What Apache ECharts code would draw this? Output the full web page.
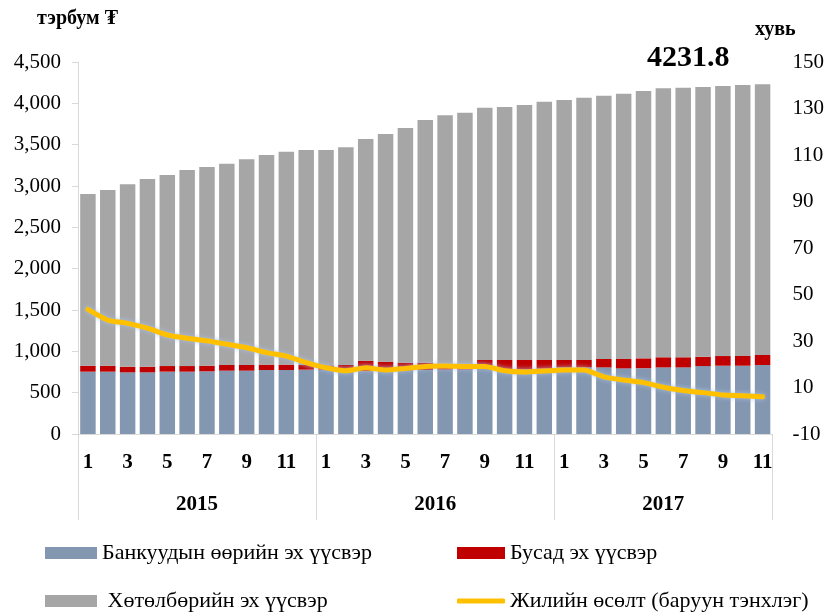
<!DOCTYPE html>
<html>
<head>
<meta charset="utf-8">
<script src="https://cdn.jsdelivr.net/npm/echarts@6/dist/echarts.min.js"></script>
<style>
  html, body { margin: 0; padding: 0; background: #fff; }
  #main { width: 827px; height: 615px; }
</style>
</head>
<body>
<div id="main"></div>
<script>
// сар бүрийн ангилал (2015.1 - 2017.11)
const months = ['1','2','3','4','5','6','7','8','9','10','11','12',
  '1','2','3','4','5','6','7','8','9','10','11','12',
  '1','2','3','4','5','6','7','8','9','10','11'];
const years = ['2015', '2016', '2017'];
const monthsPerYear = [12, 12, 11];

// тэрбум төгрөг
const bankOwn = [754, 754, 746, 746, 754, 754, 758, 766, 766, 774, 774, 778,
  778, 760, 760, 765, 770, 775, 780, 780, 785, 780, 780, 790,
  806, 806, 806, 794, 796, 806, 806, 822, 826, 826, 835];
const otherSrc = [72, 72, 68, 68, 68, 68, 68, 69, 69, 65, 65, 57,
  52, 75, 127, 110, 93, 88, 70, 70, 110, 115, 115, 105,
  89, 89, 101, 113, 119, 122, 122, 113, 117, 119, 121];
const programSrc = [2077, 2126, 2206, 2271, 2311, 2372, 2404, 2435, 2488, 2536, 2576, 2600,
  2605, 2633, 2682, 2754, 2839, 2935, 3005, 3037, 3053, 3061, 3085, 3125,
  3145, 3174, 3186, 3210, 3234, 3253, 3262, 3263, 3267, 3277, 3275.8];
// хувь (баруун тэнхлэг)
const growth = [43.6, 39.0, 37.6, 35.5, 32.6, 31.2, 30.1, 28.6, 27.1, 25.0, 23.5, 20.7,
  18.5, 17.2, 18.5, 17.5, 18.2, 19.0, 19.2, 19.0, 19.0, 17.2, 16.7, 17.1,
  17.5, 17.5, 14.6, 13.2, 12.1, 10.1, 8.7, 7.8, 6.8, 6.5, 6.0];

const names = ['Банкуудын өөрийн эх үүсвэр', 'Бусад эх үүсвэр', 'Хөтөлбөрийн эх үүсвэр', 'Жилийн өсөлт (баруун тэнхлэг)'];

// жилийн хил ба голын байрлал
let yearBounds = [0];
let yearCenters = [];
monthsPerYear.forEach(function (n, i) {
  const start = yearBounds[i];
  yearBounds.push(start + n);
  yearCenters.push(start + n / 2);
});

const font = 'Liberation Serif';
const legendText = { fontFamily: font, fontSize: 22, color: '#000' };

function legendItem(name, left, top, w, h, icon) {
  return {
    data: [{ name: name, icon: icon }],
    left: left, top: top, padding: 0,
    itemWidth: w, itemHeight: h,
    textStyle: legendText
  };
}

const chart = echarts.init(document.getElementById('main'));

chart.setOption({
  animation: false,
  textStyle: { fontFamily: font },
  grid: { left: 78, right: 54, top: 62, bottom: 181 },
  graphic: [
    { type: 'text', left: 37, top: 9, style: { text: 'тэрбум ₮', font: 'bold 20px ' + font, fill: '#000' } },
    { type: 'text', left: 755, top: 20, style: { text: 'хувь', font: 'bold 20px ' + font, fill: '#000' } },
    { type: 'text', left: 647, top: 43, style: { text: '4231.8', font: 'bold 30px ' + font, fill: '#000' } }
  ],
  legend: [
    legendItem(names[0], 45, 542, 52, 12, 'rect'),
    legendItem(' ' + names[2], 45, 590, 52, 12, 'rect'),
    legendItem(names[1], 457, 542, 48, 12, 'rect'),
    legendItem(names[3], 457, 590, 48, 5, 'roundRect')
  ],
  xAxis: [
    {
      type: 'category',
      data: months,
      axisLine: { lineStyle: { color: '#D9D9D9' } },
      axisTick: { show: false },
      axisLabel: {
        interval: 1, margin: 18,
        fontFamily: font, fontWeight: 'bold', fontSize: 21, color: '#000'
      }
    },
    {
      type: 'value',
      position: 'bottom',
      min: 0, max: 35,
      axisLine: { show: false, onZero: false },
      splitLine: { show: false },
      axisTick: {
        customValues: yearBounds, length: 86,
        lineStyle: { color: '#D9D9D9' }
      },
      axisLabel: {
        customValues: yearCenters, margin: 60,
        fontFamily: font, fontWeight: 'bold', fontSize: 21, color: '#000',
        formatter: function (v) {
          const i = yearCenters.indexOf(v);
          return i >= 0 ? years[i] : '';
        }
      }
    }
  ],
  yAxis: [
    {
      type: 'value', min: 0, max: 4500, interval: 500,
      axisLine: { show: true, lineStyle: { color: '#D9D9D9' } },
      axisTick: { show: true, length: 6, lineStyle: { color: '#D9D9D9' } },
      splitLine: { show: false },
      axisLabel: {
        margin: 17, fontFamily: font, fontSize: 21, color: '#000',
        formatter: function (v) { return v.toLocaleString('en-US'); }
      }
    },
    {
      type: 'value', min: -10, max: 150, interval: 20,
      axisLine: { show: false },
      axisTick: { show: false },
      splitLine: { show: false },
      axisLabel: { margin: 20, fontFamily: font, fontSize: 21, color: '#000' }
    }
  ],
  series: [
    {
      name: names[0], type: 'bar', stack: 'src', data: bankOwn,
      barCategoryGap: '22%',
      itemStyle: { color: '#8497B0' }
    },
    {
      name: names[1], type: 'bar', stack: 'src', data: otherSrc,
      itemStyle: { color: '#C00000' }
    },
    {
      name: ' ' + names[2], type: 'bar', stack: 'src', data: programSrc,
      itemStyle: { color: '#A6A6A6' }
    },
    {
      name: names[3], type: 'line', yAxisIndex: 1, data: growth,
      symbol: 'none', smooth: 0.2,
      itemStyle: { color: '#FFC000' },
      lineStyle: {
        color: '#FFC000', width: 5, cap: 'round',
        shadowColor: 'rgba(170,195,235,0.9)', shadowBlur: 5
      }
    }
  ]
});
</script>
</body>
</html>
